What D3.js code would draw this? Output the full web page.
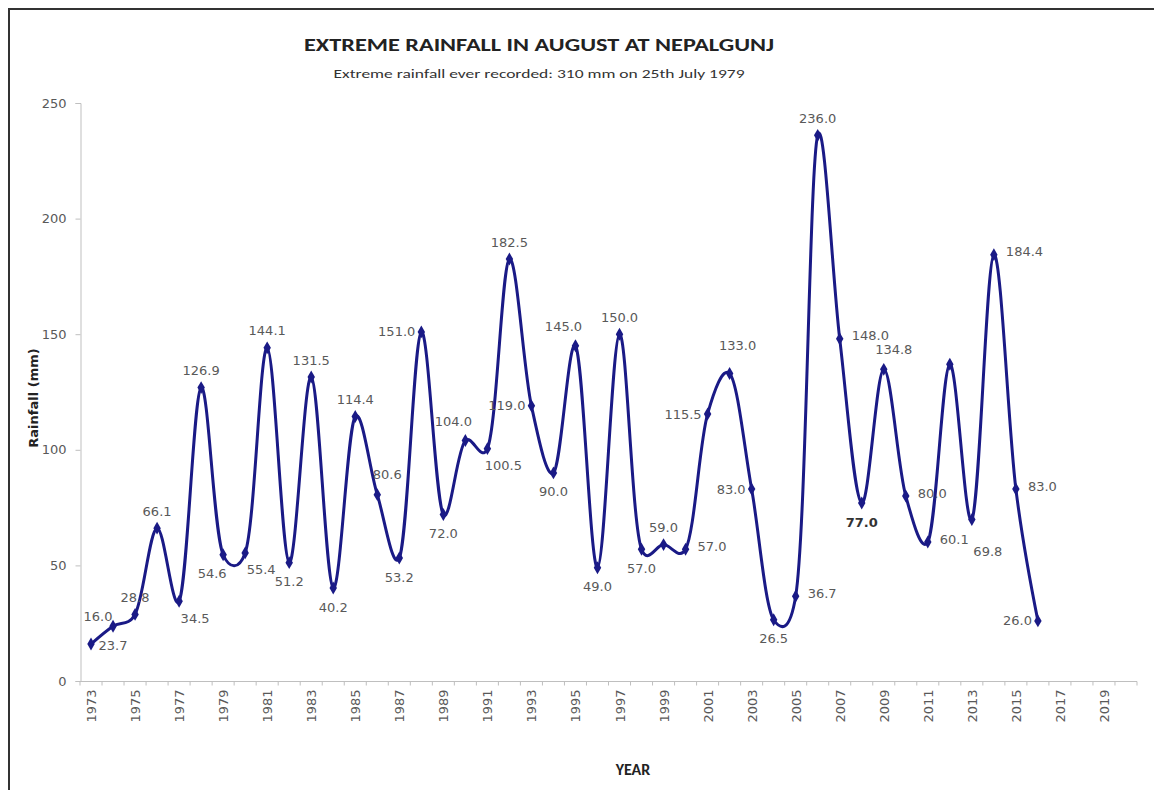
<!DOCTYPE html>
<html>
<head>
<meta charset="utf-8">
<script src="https://cdn.jsdelivr.net/npm/d3@7/dist/d3.min.js"></script>
<style>
  body { margin: 0; background: #fff; }
  svg { display: block; }
</style>
</head>
<body>
<div id="chart"></div>
<script>
// Data
const years = [1973, 1974, 1975, 1976, 1977, 1978, 1979, 1980, 1981, 1982, 1983,
  1984, 1985, 1986, 1987, 1988, 1989, 1990, 1991, 1992, 1993, 1994, 1995, 1996,
  1997, 1998, 1999, 2000, 2001, 2002, 2003, 2004, 2005, 2006, 2007, 2008, 2009,
  2010, 2011, 2012, 2013, 2014, 2015, 2016];
const rainfall = [16.0, 23.7, 28.8, 66.1, 34.5, 126.9, 54.6, 55.4, 144.1, 51.2, 131.5,
  40.2, 114.4, 80.6, 53.2, 151.0, 72.0, 104.0, 100.5, 182.5, 119.0, 90.0, 145.0, 49.0,
  150.0, 57.0, 59.0, 57.0, 115.5, 133.0, 83.0, 26.5, 36.7, 236.0, 148.0, 77.0, 134.8,
  80.0, 60.1, 137.0, 69.8, 184.4, 83.0, 26.0];
// where each value label sits relative to its point (null = no label)
const labelSide = ['NE2', 'S', 'N', 'N', 'SE', 'N', 'SW', 'SE', 'N', 'S', 'N',
  'S', 'N', 'NE', 'S', 'W', 'S', 'NW', 'SE', 'N', 'W', 'S', 'NW', 'S',
  'N', 'S', 'N', 'E', 'W', 'N2', 'W', 'S', 'E', 'N', 'E', 'S', 'NE',
  'E', 'E', null, 'SE2', 'E', 'E', 'W'];
const axisYears = [1973, 1974, 1975, 1976, 1977, 1978, 1979, 1980, 1981, 1982, 1983,
  1984, 1985, 1986, 1987, 1988, 1989, 1990, 1991, 1992, 1993, 1994, 1995, 1996,
  1997, 1998, 1999, 2000, 2001, 2002, 2003, 2004, 2005, 2006, 2007, 2008, 2009,
  2010, 2011, 2012, 2013, 2014, 2015, 2016, 2017, 2018, 2019, 2020];
const yearLabels = [1973, 1975, 1977, 1979, 1981, 1983, 1985, 1987, 1989, 1991, 1993,
  1995, 1997, 1999, 2001, 2003, 2005, 2007, 2009, 2011, 2013, 2015, 2017, 2019];
const yTicks = [0, 50, 100, 150, 200, 250];
const boldLabels = [2008];

const width = 1154, height = 790;
const lineColor = '#1a1a86';
const textGrey = '#595959';
const sansFont = '"DejaVu Sans", Verdana, sans-serif';
const titleFont = 'Carlito, "Liberation Sans Narrow", "Open Sans", sans-serif';

const svg = d3.select('#chart').append('svg')
  .attr('width', width)
  .attr('height', height);

// frame (top + left edges visible in the picture)
svg.append('path')
  .attr('d', `M9,${height} V9 H${width}`)
  .attr('fill', 'none')
  .attr('stroke', '#333')
  .attr('stroke-width', 2);

const x = d3.scaleBand().domain(axisYears).range([80, 1137]);
const y = d3.scaleLinear().domain([0, 250]).range([681, 103]);
const cx = yr => x(yr) + x.bandwidth() / 2;

// Titles
svg.append('text')
  .attr('x', 539).attr('y', 51)
  .attr('text-anchor', 'middle')
  .attr('font-family', titleFont)
  .attr('font-weight', 'bold')
  .attr('font-size', 18)
  .attr('fill', '#222')
  .attr('textLength', 470).attr('lengthAdjust', 'spacingAndGlyphs')
  .text('EXTREME RAINFALL IN AUGUST AT NEPALGUNJ');

svg.append('text')
  .attr('x', 539).attr('y', 78)
  .attr('text-anchor', 'middle')
  .attr('font-family', titleFont)
  .attr('font-size', 13)
  .attr('fill', '#333')
  .attr('textLength', 411).attr('lengthAdjust', 'spacingAndGlyphs')
  .text('Extreme rainfall ever recorded: 310 mm on 25th  July 1979');

// Y axis
const yAxis = svg.append('g')
  .attr('transform', 'translate(80.5,0)')
  .call(d3.axisLeft(y).tickValues(yTicks).tickSize(5).tickPadding(9).tickFormat(d3.format('d')));
yAxis.select('.domain').attr('stroke', '#bfbfbf');
yAxis.selectAll('.tick line').attr('stroke', '#bfbfbf');
yAxis.selectAll('.tick text')
  .attr('font-family', sansFont)
  .attr('font-size', 13)
  .attr('fill', textGrey);

svg.append('text')
  .attr('transform', 'translate(38,398) rotate(-90)')
  .attr('text-anchor', 'middle')
  .attr('font-family', sansFont)
  .attr('font-weight', 'bold')
  .attr('font-size', 13)
  .attr('fill', '#222')
  .text('Rainfall (mm)');

// X axis
const xAxis = svg.append('g').attr('transform', 'translate(0,681.5)');
xAxis.append('line')
  .attr('x1', 80).attr('x2', 1137)
  .attr('stroke', '#bfbfbf');
xAxis.selectAll('.xtick')
  .data(axisYears.concat(['end']))
  .join('line')
  .attr('class', 'xtick')
  .attr('x1', d => d === 'end' ? x.range()[1] : x(d))
  .attr('x2', d => d === 'end' ? x.range()[1] : x(d))
  .attr('y1', 0).attr('y2', 4)
  .attr('stroke', '#bfbfbf');
xAxis.selectAll('.xlabel')
  .data(yearLabels)
  .join('text')
  .attr('class', 'xlabel')
  .attr('transform', d => `translate(${cx(d) + 5},8) rotate(-90)`)
  .attr('text-anchor', 'end')
  .attr('font-family', sansFont)
  .attr('font-size', 13)
  .attr('fill', textGrey)
  .text(d => d);

svg.append('text')
  .attr('x', 633).attr('y', 775)
  .attr('text-anchor', 'middle')
  .attr('font-family', titleFont)
  .attr('font-weight', 'bold')
  .attr('font-size', 16)
  .attr('fill', '#222')
  .text('YEAR');

// Series
const points = years.map((yr, i) => ({ year: yr, value: rainfall[i], side: labelSide[i] }));

const line = d3.line()
  .x(d => cx(d.year))
  .y(d => y(d.value))
  .curve(d3.curveCatmullRom.alpha(0.2));

svg.append('path')
  .datum(points)
  .attr('d', line)
  .attr('fill', 'none')
  .attr('stroke', lineColor)
  .attr('stroke-width', 3)
  .attr('stroke-linejoin', 'round');

svg.selectAll('.marker')
  .data(points)
  .join('path')
  .attr('class', 'marker')
  .attr('transform', d => `translate(${cx(d.year)},${y(d.value)})`)
  .attr('d', d3.symbol(d3.symbolDiamond).size(48))
  .attr('fill', lineColor);

// label placement by side
const sides = {
  N: { dx: 0, dy: -17, anchor: 'middle' },
  N2: { dx: 8, dy: -28, anchor: 'middle' },
  S: { dx: 0, dy: 19, anchor: 'middle' },
  E: { dx: 12, dy: -3, anchor: 'start' },
  W: { dx: -6, dy: 0, anchor: 'end' },
  NE: { dx: 10, dy: -20, anchor: 'middle' },
  NE2: { dx: 7, dy: -28, anchor: 'middle' },
  NW: { dx: -12, dy: -19, anchor: 'middle' },
  SE: { dx: 16, dy: 17, anchor: 'middle' },
  SE2: { dx: 16, dy: 32, anchor: 'middle' },
  SW: { dx: -11, dy: 19, anchor: 'middle' },
};

svg.selectAll('.vlabel')
  .data(points.filter(d => d.side))
  .join('text')
  .attr('class', 'vlabel')
  .attr('x', d => cx(d.year) + sides[d.side].dx)
  .attr('y', d => y(d.value) + sides[d.side].dy)
  .attr('dy', '0.35em')
  .attr('text-anchor', d => sides[d.side].anchor)
  .attr('font-family', sansFont)
  .attr('font-size', 13)
  .attr('font-weight', d => boldLabels.includes(d.year) ? 'bold' : 'normal')
  .attr('fill', d => boldLabels.includes(d.year) ? '#333' : textGrey)
  .text(d => d.value.toFixed(1));
</script>
</body>
</html>
